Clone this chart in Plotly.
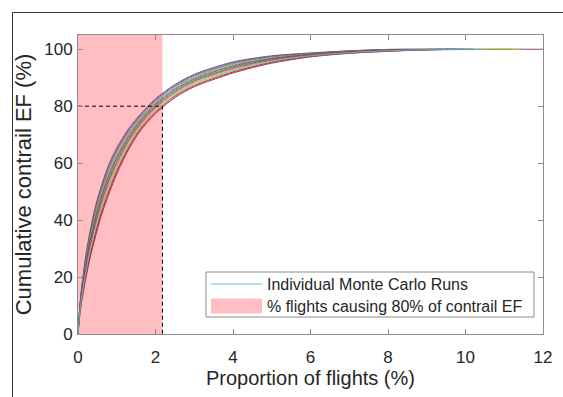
import plotly.graph_objects as go

# ---- data ----
x_pts = [0, 0.05, 0.1, 0.2, 0.3, 0.45, 0.6, 0.8, 1.0, 1.3, 1.6, 2.0, 2.5, 3.0, 4.0, 5.0, 6.0, 7.0, 8.0, 9.0]

# each Monte Carlo run: cumulative contrail EF (%) at x_pts, listed in drawing order
run_01 = [0, 7.2, 11.8, 19.4, 26.1, 34.2, 41.5, 49.3, 56.2, 64.6, 71.2, 77.4, 83.0, 86.8, 91.65, 95.1, 97.3, 98.55, 99.25, 99.76]
run_02 = [0, 9.5, 15.8, 25.6, 33.2, 42.4, 49.6, 57.4, 63.3, 70.3, 75.7, 81.4, 86.6, 90.2, 94.67, 97.1, 98.4, 99.25, 99.79, 99.95]
run_03 = [0, 8.2, 13.5, 22.0, 29.1, 37.6, 44.9, 52.7, 59.2, 67.0, 73.1, 79.1, 84.5, 88.2, 92.9, 95.95, 97.75, 98.84, 99.48, 99.84]
run_04 = [0, 8.85, 14.7, 23.8, 31.2, 40.0, 47.2, 55.0, 61.3, 68.7, 74.4, 80.3, 85.5, 89.2, 93.8, 96.53, 98.07, 99.05, 99.64, 99.89]
run_05 = [0, 10.2, 17.0, 27.4, 35.3, 44.8, 51.9, 59.7, 65.4, 72.0, 77.0, 82.6, 87.6, 91.2, 95.55, 97.7, 98.7, 99.45, 99.95, 100]
run_06 = [0, 10.0, 16.6, 26.8, 34.6, 44.0, 51.1, 58.9, 64.7, 71.4, 76.6, 82.2, 87.3, 90.9, 95.26, 97.5, 98.6, 99.38, 99.9, 99.98]
run_07 = [0, 9.75, 16.2, 26.2, 33.9, 43.2, 50.3, 58.1, 64.0, 70.9, 76.1, 81.8, 86.9, 90.5, 94.97, 97.3, 98.5, 99.32, 99.85, 99.96]
run_08 = [0, 9.3, 15.4, 25.0, 32.5, 41.6, 48.8, 56.6, 62.6, 69.8, 75.3, 81.0, 86.2, 89.9, 94.38, 96.9, 98.3, 99.18, 99.74, 99.93]
run_09 = [0, 9.1, 15.05, 24.4, 31.85, 40.8, 48.0, 55.8, 61.95, 69.2, 74.8, 80.65, 85.9, 89.55, 94.09, 96.7, 98.2, 99.11, 99.69, 99.91]
run_10 = [0, 8.6, 14.3, 23.2, 30.5, 39.2, 46.4, 54.2, 60.6, 68.1, 73.95, 79.87, 85.2, 88.9, 93.5, 96.34, 97.97, 98.98, 99.58, 99.87]
run_11 = [0, 8.4, 13.9, 22.6, 29.8, 38.4, 45.7, 53.5, 59.9, 67.6, 73.5, 79.5, 84.8, 88.6, 93.2, 96.14, 97.86, 98.91, 99.53, 99.86]
run_12 = [0, 7.7, 12.7, 20.8, 27.7, 36.05, 43.3, 51.1, 57.8, 65.9, 72.2, 78.3, 83.8, 87.6, 92.3, 95.55, 97.55, 98.71, 99.37, 99.8]
run_13 = [0, 7.5, 12.3, 20.2, 27.0, 35.3, 42.5, 50.3, 57.1, 65.3, 71.8, 77.9, 83.5, 87.2, 92.0, 95.4, 97.45, 98.64, 99.32, 99.78]
run_14 = [0, 7.95, 13.1, 21.4, 28.4, 36.85, 44.1, 51.9, 58.5, 66.45, 72.65, 78.7, 84.15, 87.9, 92.6, 95.75, 97.65, 98.78, 99.43, 99.82]
runs = [run_01, run_02, run_03, run_04, run_05, run_06, run_07,
        run_08, run_09, run_10, run_11, run_12, run_13, run_14]
# proportion of flights (%) at which each run reaches 100 %
run_end_x = [12.0, 11.5, 11.4, 11.2, 9.6, 9.8, 9.4, 10.0, 9.7, 9.9, 10.1, 9.5, 10.2, 10.45]
run_end_y = 100

threshold_x = 2.18   # % flights causing 80 % of contrail EF
threshold_y = 80

x_ticks = [0, 2, 4, 6, 8, 10, 12]
y_ticks = [0, 20, 40, 60, 80, 100]

legend_labels = ["Individual Monte Carlo Runs", "% flights causing 80% of contrail EF"]

# ---- styling ----
matlab = {"blue": "#0072BD", "orange": "#D95319", "yellow": "#EDB120", "purple": "#7E2F8E",
          "green": "#77AC30", "lblue": "#4DBEEE", "red": "#A2142F"}
run_colors = ["red", "lblue", "yellow", "green", "purple", "blue", "orange",
              "green", "purple", "blue", "orange", "yellow", "red", "lblue"]

FONT = "Liberation Sans, Arial, Helvetica, sans-serif"
TXT = "#262626"
AXC = "#8c8c8c"
PINK = "#FFBEC2"

# plot-area pixel geometry (for legend placement in paper coords)
L, R, T, B, W, H = 78, 20, 35, 63, 563, 397
PW, PH = W - L - R, H - T - B
def px(x):
    return (x - L) / PW
def py(y):
    return (H - B - y) / PH

fig = go.Figure()

# shaded region
fig.add_trace(go.Scatter(
    x=[0, threshold_x, threshold_x, 0, 0], y=[0, 0, 105, 105, 0],
    fill="toself", fillcolor=PINK, mode="lines", line=dict(width=0, color=PINK),
    name=legend_labels[1], showlegend=False, hoverinfo="skip"))

for i, r in enumerate(runs):
    fig.add_trace(go.Scatter(
        x=x_pts + [run_end_x[i]], y=r + [run_end_y],
        mode="lines", line=dict(color=matlab[run_colors[i]], width=1, shape="spline", smoothing=0.8),
        opacity=0.85, name=legend_labels[0], showlegend=False))

# dashed guide
fig.add_trace(go.Scatter(
    x=[0, threshold_x, threshold_x], y=[threshold_y, threshold_y, 0],
    mode="lines", line=dict(color="black", width=1, dash="4px,3px"), showlegend=False,
    hoverinfo="skip"))

axis_common = dict(showline=True, linecolor=AXC, linewidth=1, mirror="ticks",
                   ticks="inside", ticklen=5, tickcolor=AXC, showgrid=False, zeroline=False,
                   automargin=False, tickfont=dict(family=FONT, size=17, color=TXT))

fig.update_xaxes(range=[0, 12], tickvals=x_ticks, ticklabelstandoff=8,
                 title=dict(text="Proportion of flights (%)", standoff=4,
                            font=dict(family=FONT, size=20, color=TXT)), **axis_common)
fig.update_yaxes(range=[0, 105], tickvals=y_ticks, ticklabelstandoff=1,
                 title=dict(text="Cumulative contrail EF (%)", standoff=6,
                            font=dict(family=FONT, size=22, color=TXT)), **axis_common)

# legend box drawn by hand (MATLAB style)
lx0, lx1, ly0, ly1 = 206, 534, 272, 317
row1, row2 = 284, 306
key_x0, key_x1, text_x = 211, 262, 265
shapes = [
    dict(type="rect", xref="paper", yref="paper", x0=px(lx0), x1=px(lx1), y0=py(ly1), y1=py(ly0),
         fillcolor="white", line=dict(color=AXC, width=1), layer="above"),
    dict(type="line", xref="paper", yref="paper", x0=px(key_x0), x1=px(key_x1), y0=py(row1), y1=py(row1),
         line=dict(color=matlab["lblue"], width=1), layer="above"),
    dict(type="rect", xref="paper", yref="paper", x0=px(key_x0), x1=px(key_x1), y0=py(row2 + 7.5), y1=py(row2 - 7.5),
         fillcolor=PINK, line=dict(width=0), layer="above"),
    # figure frame
    dict(type="line", xref="paper", yref="paper", x0=px(12.5), x1=px(12.5), y0=py(12.5), y1=py(420),
         line=dict(color="#333333", width=1)),
    dict(type="line", xref="paper", yref="paper", x0=px(12.5), x1=px(600), y0=py(12.5), y1=py(12.5),
         line=dict(color="#333333", width=1)),
]
annotations = [
    dict(text=legend_labels[0], xref="paper", yref="paper", x=px(text_x), y=py(row1),
         xanchor="left", yanchor="middle", showarrow=False, font=dict(family=FONT, size=16, color=TXT)),
    dict(text=legend_labels[1], xref="paper", yref="paper", x=px(text_x), y=py(row2),
         xanchor="left", yanchor="middle", showarrow=False, font=dict(family=FONT, size=16, color=TXT)),
]

fig.update_layout(
    width=W, height=H, autosize=False,
    margin=dict(l=L, r=R, t=T, b=B),
    plot_bgcolor="white", paper_bgcolor="white",
    font=dict(family=FONT, color=TXT),
    showlegend=False,
    shapes=shapes, annotations=annotations,
)

fig.write_html("out.html", config={"displayModeBar": False},
               post_script="document.body.style.margin='0px';document.body.style.overflow='hidden';")
